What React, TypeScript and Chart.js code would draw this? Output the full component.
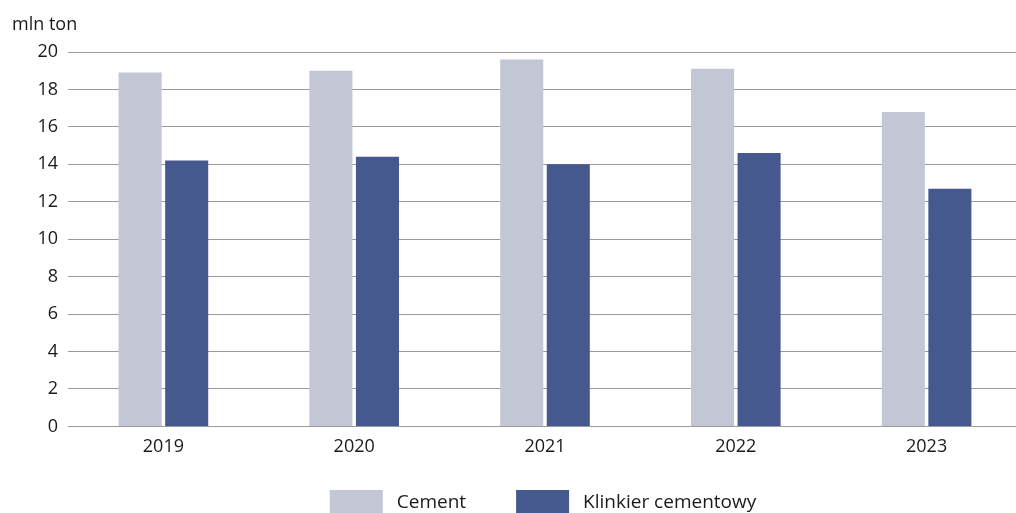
import React, { useEffect, useRef } from "react";
import { Chart, registerables } from "chart.js";

Chart.register(...registerables);

const categories = ["2019", "2020", "2021", "2022", "2023"];
const cementValues = [18.9, 19.0, 19.6, 19.1, 16.8];
const clinkerValues = [14.2, 14.4, 14.0, 14.6, 12.7];
const seriesNames = ["Cement", "Klinkier cementowy"];
const unitLabel = "mln ton";
const yTicks = { min: 0, max: 20, step: 2 };

const FONT = "'Open Sans', 'Noto Sans', sans-serif";
const TEXT = "#1a1a1a";

const unitPlugin = {
  id: "unitLabel",
  afterDraw(chart: any) {
    const ctx = chart.ctx;
    ctx.save();
    ctx.font = `18px ${FONT}`;
    ctx.fillStyle = TEXT;
    ctx.textBaseline = "middle";
    ctx.textAlign = "left";
    ctx.fillText(unitLabel, 12, 25);
    ctx.restore();
  },
};

const legendPlugin = {
  id: "customLegend",
  afterDraw(chart: any) {
    const ctx = chart.ctx;
    const boxW = 53;
    const boxH = 26;
    const textGap = 14;
    const itemGap = 50;
    ctx.save();
    ctx.font = `19px ${FONT}`;
    const items = chart.data.datasets.map((ds: any) => ({
      label: ds.label,
      color: ds.backgroundColor,
      w: ctx.measureText(ds.label).width,
    }));
    let total = 0;
    items.forEach((it: any, i: number) => {
      total += boxW + textGap + it.w + (i > 0 ? itemGap : 0);
    });
    const area = chart.chartArea;
    let x = (area.left + area.right) / 2 - 2 - total / 2;
    const top = chart.height - 23;
    items.forEach((it: any) => {
      ctx.fillStyle = it.color;
      ctx.fillRect(x, top, boxW, boxH);
      ctx.fillStyle = TEXT;
      ctx.textBaseline = "middle";
      ctx.textAlign = "left";
      ctx.fillText(it.label, x + boxW + textGap, top + 13);
      x += boxW + textGap + it.w + itemGap;
    });
    ctx.restore();
  },
};

export default function App() {
  const canvasRef = useRef<HTMLCanvasElement | null>(null);

  useEffect(() => {
    if (!canvasRef.current) return;
    const chart = new Chart(canvasRef.current, {
      type: "bar",
      data: {
        labels: categories,
        datasets: [
          {
            label: seriesNames[0],
            data: cementValues,
            backgroundColor: "#C2C6D5",
            barPercentage: 0.925,
            categoryPercentage: 0.488,
          },
          {
            label: seriesNames[1],
            data: clinkerValues,
            backgroundColor: "#46598F",
            barPercentage: 0.925,
            categoryPercentage: 0.488,
          },
        ],
      },
      options: {
        animation: false,
        responsive: true,
        maintainAspectRatio: false,
        layout: { padding: { left: 12, right: 0, top: 52, bottom: 45 } },
        plugins: {
          legend: { display: false },
          title: { display: false },
          tooltip: { enabled: false },
        },
        scales: {
          x: {
            grid: { display: false, drawTicks: false },
            border: { display: false },
            ticks: { color: TEXT, font: { family: FONT, size: 18 }, padding: 10 },
          },
          y: {
            min: yTicks.min,
            max: yTicks.max,
            afterFit(scale: any) {
              scale.width = 56;
            },
            ticks: {
              stepSize: yTicks.step,
              color: TEXT,
              font: { family: FONT, size: 18 },
              padding: 10,
            },
            grid: { color: "#9a9a9a", lineWidth: 1, drawTicks: false },
            border: { display: false },
          },
        },
      },
      plugins: [unitPlugin, legendPlugin],
    } as any);
    return () => chart.destroy();
  }, []);

  return (
    <div
      style={{
        position: "fixed",
        left: 0,
        top: 0,
        width: 1016,
        height: 513,
        overflow: "hidden",
        background: "#fff",
      }}
    >
      <div style={{ position: "relative", width: 1022, height: 513 }}>
        <canvas ref={canvasRef} />
      </div>
    </div>
  );
}
